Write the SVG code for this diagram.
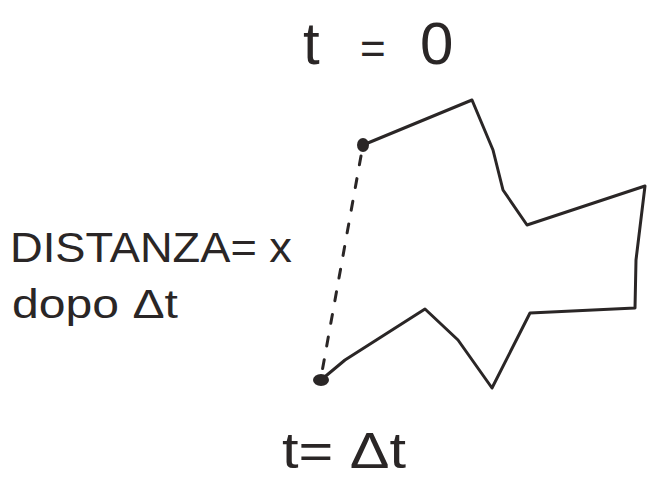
<svg xmlns="http://www.w3.org/2000/svg" width="649" height="479" viewBox="0 0 649 479">
<style>
.lbl{font-family:"Liberation Sans",Arial,sans-serif;fill:#2a2626}
.edge{fill:none;stroke:#2a2626;stroke-width:3;stroke-linejoin:round;stroke-linecap:round}
.dash{fill:none;stroke:#2a2626;stroke-width:3;stroke-dasharray:9 14;stroke-linecap:round}
.dot{fill:#2a2626}
</style>
<rect width="649" height="479" fill="#ffffff"/>
<g id="connectors">
<path class="edge" d="M363,145 L472,100 L493,150 L503,190 L527,225 L645,186 L636,260 L635,308 L530,313 L492,388 L458,340 L425,309 L345,360 L321,380"/>
<path class="dash" d="M361,156 L322,372"/>
</g>
<g id="start-point"><ellipse class="dot" cx="363" cy="145" rx="6" ry="7"/></g>
<g id="end-point"><ellipse class="dot" cx="321" cy="380" rx="8" ry="6"/></g>
<g id="label-t0"><text class="lbl" font-size="60" y="64"><tspan x="303">t</tspan><tspan x="360" font-size="44" y="64">=</tspan><tspan x="420">0</tspan></text></g>
<g id="label-distance">
<text class="lbl" font-size="42" x="10" y="262" textLength="282" lengthAdjust="spacingAndGlyphs">DISTANZA= x</text>
<text class="lbl" font-size="40" x="12" y="318" textLength="166" lengthAdjust="spacingAndGlyphs">dopo  Δt</text>
</g>
<g id="label-tdt"><text class="lbl" font-size="50" x="282" y="468" textLength="124" lengthAdjust="spacingAndGlyphs">t= Δt</text></g>
</svg>
